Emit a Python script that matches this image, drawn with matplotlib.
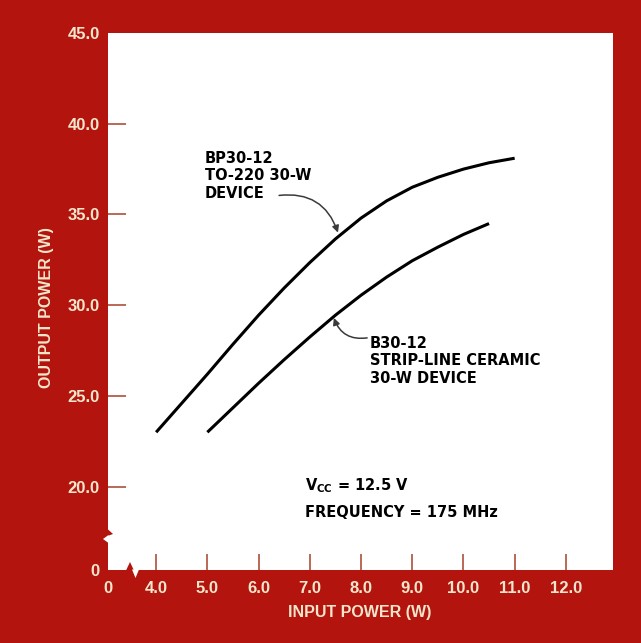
import matplotlib.pyplot as plt
from matplotlib.patches import Polygon

# --- data ---
bp_x = [4.0, 4.5, 5.0, 5.5, 6.0, 6.5, 7.0, 7.5, 8.0, 8.5, 9.0, 9.5, 10.0, 10.5, 11.0]
bp_y = [23.0, 24.6, 26.2, 27.85, 29.45, 30.95, 32.35, 33.65, 34.8, 35.75, 36.5, 37.05, 37.5, 37.85, 38.1]
b_x = [5.0, 5.5, 6.0, 6.5, 7.0, 7.5, 8.0, 8.5, 9.0, 9.5, 10.0, 10.5]
b_y = [23.0, 24.35, 25.7, 27.0, 28.25, 29.45, 30.55, 31.55, 32.45, 33.2, 33.9, 34.5]
x_ticks = [4.0, 5.0, 6.0, 7.0, 8.0, 9.0, 10.0, 11.0, 12.0]
y_ticks = [20.0, 25.0, 30.0, 35.0, 40.0, 45.0]

RED = '#B3150E'
CREAM = '#F4E6CC'
TICK = '#A8402A'

# broken axes: the '0' sits at the lower edge of each axis
X_LO, X_HI = 3.06, 12.92
Y_LO, Y_HI = 15.41, 45.0

fig = plt.figure(figsize=(6.41, 6.43), dpi=100, facecolor=RED)
ax = fig.add_axes([108/641, 73/643, 505/641, 537/643])
ax.set_facecolor('white')
for s in ax.spines.values():
    s.set_visible(False)

ax.plot(bp_x, bp_y, color='black', lw=2.2, solid_capstyle='butt', solid_joinstyle='round')
ax.plot(b_x, b_y, color='black', lw=2.2, solid_capstyle='butt', solid_joinstyle='round')

ax.set_xlim(X_LO, X_HI)
ax.set_ylim(Y_LO, Y_HI)
ax.set_xticks([X_LO] + x_ticks)
ax.set_xticklabels(['0'] + [f'{v:.1f}' for v in x_ticks])
ax.set_yticks([Y_LO] + y_ticks)
ax.set_yticklabels(['0'] + [f'{v:.1f}' for v in y_ticks])
ax.tick_params(axis='x', direction='in', length=11.5, width=1.1, color=TICK,
               pad=8, labelcolor=CREAM, labelsize=12)
ax.tick_params(axis='y', direction='in', length=13, width=1.1, color=TICK,
               pad=6, labelcolor=CREAM, labelsize=12)
for lab in ax.get_xticklabels() + ax.get_yticklabels():
    lab.set_fontfamily('Liberation Sans')
    lab.set_fontweight('bold')
ax.xaxis.get_major_ticks()[0].tick1line.set_visible(False)
ax.yaxis.get_major_ticks()[0].tick1line.set_visible(False)
ax.yaxis.get_major_ticks()[-1].tick1line.set_visible(False)

lab_font = dict(color=CREAM, fontsize=11.5, fontweight='bold', family='Liberation Sans')
fig.text(360/641, 1 - 613/643, 'INPUT POWER (W)', ha='center', va='center', **lab_font)
fig.text(47/641, 1 - 308/643, 'OUTPUT POWER (W)', ha='center', va='center',
         rotation=90, **lab_font)

# annotations
txt = dict(color='black', fontsize=10.5, fontweight='bold', linespacing=1.2,
           family='DejaVu Sans')
ax.text(4.95, 38.5, 'BP30-12\nTO-220 30-W\nDEVICE', ha='left', va='top', **txt)
ax.text(8.17, 28.3, 'B30-12\nSTRIP-LINE CERAMIC\n30-W DEVICE', ha='left', va='top', **txt)
arrow = dict(arrowstyle='-|>', color='#3a3a3a', lw=1.1, mutation_scale=10,
             shrinkA=0, shrinkB=0)
ax.annotate('', xy=(7.55, 34.0), xytext=(6.4, 36.05),
            arrowprops=dict(connectionstyle='arc3,rad=-0.4', **arrow))
ax.annotate('', xy=(7.47, 29.3), xytext=(8.12, 28.2),
            arrowprops=dict(connectionstyle='arc3,rad=-0.4', **arrow))

ax.text(6.91, 20.05, r'V$_{\mathregular{CC}}$ = 12.5 V', ha='left', va='center', **txt)
ax.text(6.91, 18.6, 'FREQUENCY = 175 MHz', ha='left', va='center', **txt)

# axis break marks (pixel positions, origin top-left)
def px(pts):
    return [(x / 100, (643 - y) / 100) for x, y in pts]

tr = fig.dpi_scale_trans
fig.add_artist(Polygon(px([(126, 570.5), (130, 562), (134, 570.5)]), closed=True,
                       fc=RED, ec='none', transform=tr))
fig.add_artist(Polygon(px([(132, 569.5), (135.5, 578), (139, 569.5)]), closed=True,
                       fc='white', ec='none', transform=tr))
fig.add_artist(Polygon(px([(107.5, 529), (113, 534), (107.5, 536)]), closed=True,
                       fc=RED, ec='none', transform=tr))
fig.add_artist(Polygon(px([(108.5, 535), (103, 539), (108.5, 543)]), closed=True,
                       fc='white', ec='none', transform=tr))

fig.savefig('out.png', dpi=100, facecolor=RED)
